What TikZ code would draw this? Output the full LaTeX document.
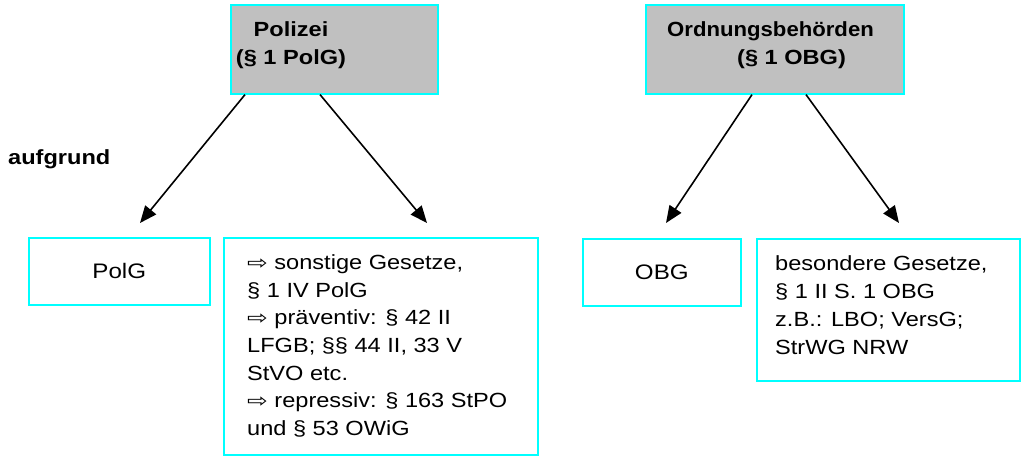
\documentclass[tikz,border=0pt]{standalone}
\usepackage{fontspec}
\setmainfont[FakeStretch=1.15]{Liberation Sans}
\newfontfamily\symfont[FakeStretch=1.3]{DejaVu Sans}
\newfontfamily\ordfont[FakeStretch=1.08]{Liberation Sans}
\usetikzlibrary{arrows.meta}
\definecolor{boxcyan}{RGB}{0,255,255}
\definecolor{boxgray}{RGB}{192,192,192}
\newcommand{\ar}{{\symfont\fontsize{19}{19}\selectfont ⇨}}
\tikzset{
  box/.style={draw=boxcyan, line width=1.6pt, inner sep=0pt, anchor=north west,
    font=\fontsize{21}{27.7}\selectfont},
  headbox/.style={box, fill=boxgray},
  txt/.style={font=\fontsize{20.5}{27.7}\selectfont, inner sep=0pt, anchor=base west, align=left},
  btxt/.style={font=\fontsize{20.5}{28}\selectfont\bfseries, inner sep=0pt, anchor=base west, align=left},
  conn/.style={line width=1.6pt, -{Triangle[length=17pt,width=14pt]}}
}
\begin{document}
\begin{tikzpicture}[x=1pt,y=-1pt]
\useasboundingbox (0,0) rectangle (1022,457);
% header boxes
\node[headbox, minimum width=207pt, minimum height=89pt] (pol) at (230,4) {};
\node[headbox, minimum width=258pt, minimum height=89pt] (ord) at (645,4) {};
\node[btxt, anchor=base, align=center] (polt) at (291,65) {Polizei\\(§ 1 PolG)};
\node[btxt] (ordt) at (667,65) {{\ordfont Ordnungsbehörden}\\\hspace*{70pt}(§ 1 OBG)};
\node[btxt] (aufg) at (8,165) {aufgrund};
% lower boxes
\node[box, minimum width=181pt, minimum height=67pt] (polg) at (28,237) {PolG};
\node[box, minimum width=314pt, minimum height=217pt] (sonst) at (223,237) {};
\node[box, minimum width=158pt, minimum height=67pt] (obg) at (582,238) {OBG};
\node[box, minimum width=263pt, minimum height=142pt] (bes) at (756,238) {};
\node[txt] (sonstt) at (247,435.5) {\ar\ sonstige Gesetze,\\§ 1 IV PolG\\\ar\ präventiv: § 42 II\\LFGB; §§ 44 II, 33 V\\StVO etc.\\\ar\ repressiv: § 163 StPO\\und § 53 OWiG};
\node[txt] (best) at (775,354) {besondere Gesetze,\\§ 1 II S. 1 OBG\\z.B.: LBO; VersG;\\StrWG NRW};
% arrow ends
\coordinate (t1) at (140,223);
\coordinate (t2) at (427,223);
\coordinate (t3) at (666,223);
\coordinate (t4) at (899,223);
\draw[conn] ([xshift=15pt]pol.south west) -- (t1);
\draw[conn] ([xshift=90pt]pol.south west) -- (t2);
\draw[conn] ([xshift=107pt]ord.south west) -- (t3);
\draw[conn] ([xshift=161pt]ord.south west) -- (t4);
\end{tikzpicture}
\end{document}
